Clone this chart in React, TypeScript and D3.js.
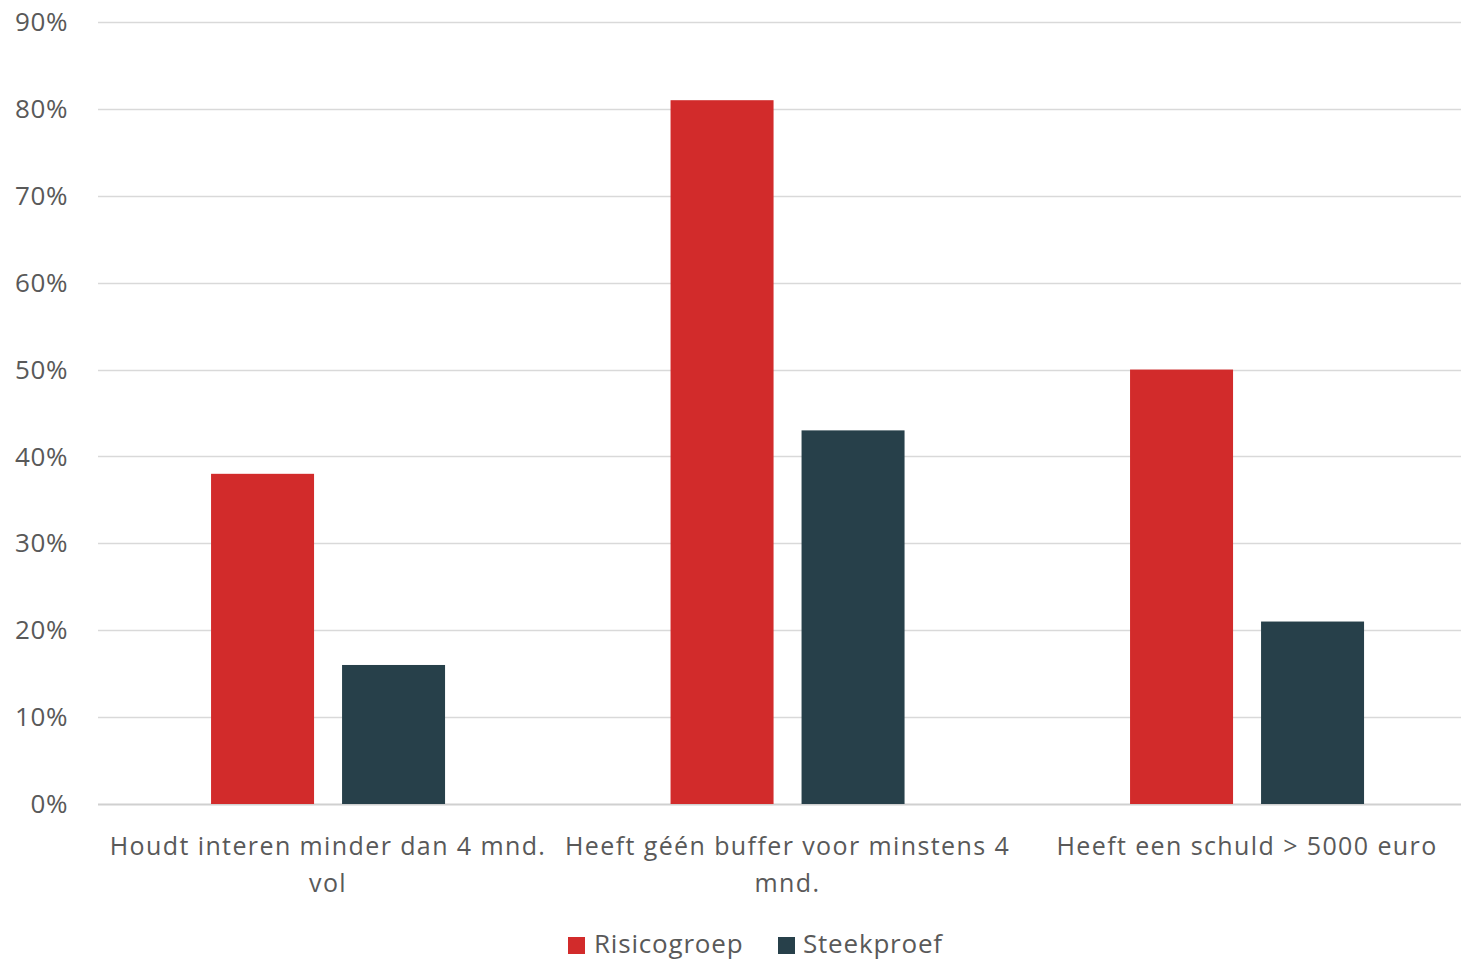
import React from "react";
import * as d3 from "d3";

const categories: string[][] = [
  ["Houdt interen minder dan 4 mnd.", "vol"],
  ["Heeft géén buffer voor minstens 4", "mnd."],
  ["Heeft een schuld > 5000 euro"],
];
const seriesNames = ["Risicogroep", "Steekproef"];
const risicogroep = [0.38, 0.81, 0.5];
const steekproef = [0.16, 0.43, 0.21];
const yTicks = [0, 0.1, 0.2, 0.3, 0.4, 0.5, 0.6, 0.7, 0.8, 0.9];
const colors = ["#D22B2B", "#27404A"];

const W = 1461;
const H = 961;
const FONT = "'Open Sans', Calibri, sans-serif";

export default function App() {
  const y = d3.scaleLinear().domain([0, 0.9]).range([804, 22]);
  const x0 = d3
    .scaleBand<number>()
    .domain([0, 1, 2])
    .range([98.3, 1476.8])
    .padding(0);
  const groupW = 234;
  const x1 = d3
    .scaleBand<number>()
    .domain([0, 1])
    .range([0, groupW])
    .paddingInner(28 / 131)
    .paddingOuter(0);
  const series = [risicogroep, steekproef];
  const fmt = d3.format(".0%");

  return (
    <svg
      width={W}
      height={H}
      style={{ position: "absolute", left: 0, top: 0, background: "#fff" }}
      fontFamily={FONT}
    >
      {yTicks.map((t) => (
        <g key={t}>
          <line
            x1={98}
            x2={1461}
            y1={Math.round(y(t)) + 0.5}
            y2={Math.round(y(t)) + 0.5}
            stroke={t === 0 ? "#d0d0d0" : "#d9d9d9"}
            strokeWidth={t === 0 ? 2 : 1.5}
          />
          <text
            x={68}
            y={y(t)}
            dy="0.35em"
            textAnchor="end"
            fontSize={26}
            letterSpacing={0.6}
            fill="#595959"
          >
            {fmt(t)}
          </text>
        </g>
      ))}
      {categories.map((c, i) => {
        const cx = x0(i)! + x0.bandwidth() / 2;
        const gx = cx - groupW / 2;
        return (
          <g key={i}>
            {series.map((s, j) => (
              <rect
                key={j}
                x={gx + x1(j)!}
                y={y(s[i])}
                width={x1.bandwidth()}
                height={y(0) - y(s[i])}
                fill={colors[j]}
              />
            ))}
            {c.map((line, k) => (
              <text
                key={k}
                x={cx}
                y={855 + k * 37}
                textAnchor="middle"
                fontSize={25}
                letterSpacing={1.4}
                fill="#595959"
              >
                {line}
              </text>
            ))}
          </g>
        );
      })}
      <g>
        <rect x={568} y={937} width={17} height={17} fill={colors[0]} />
        <text x={594} y={953} fontSize={26} letterSpacing={0.8} fill="#595959">
          {seriesNames[0]}
        </text>
        <rect x={778} y={937} width={17} height={17} fill={colors[1]} />
        <text x={803} y={953} fontSize={26} letterSpacing={0.8} fill="#595959">
          {seriesNames[1]}
        </text>
      </g>
    </svg>
  );
}
